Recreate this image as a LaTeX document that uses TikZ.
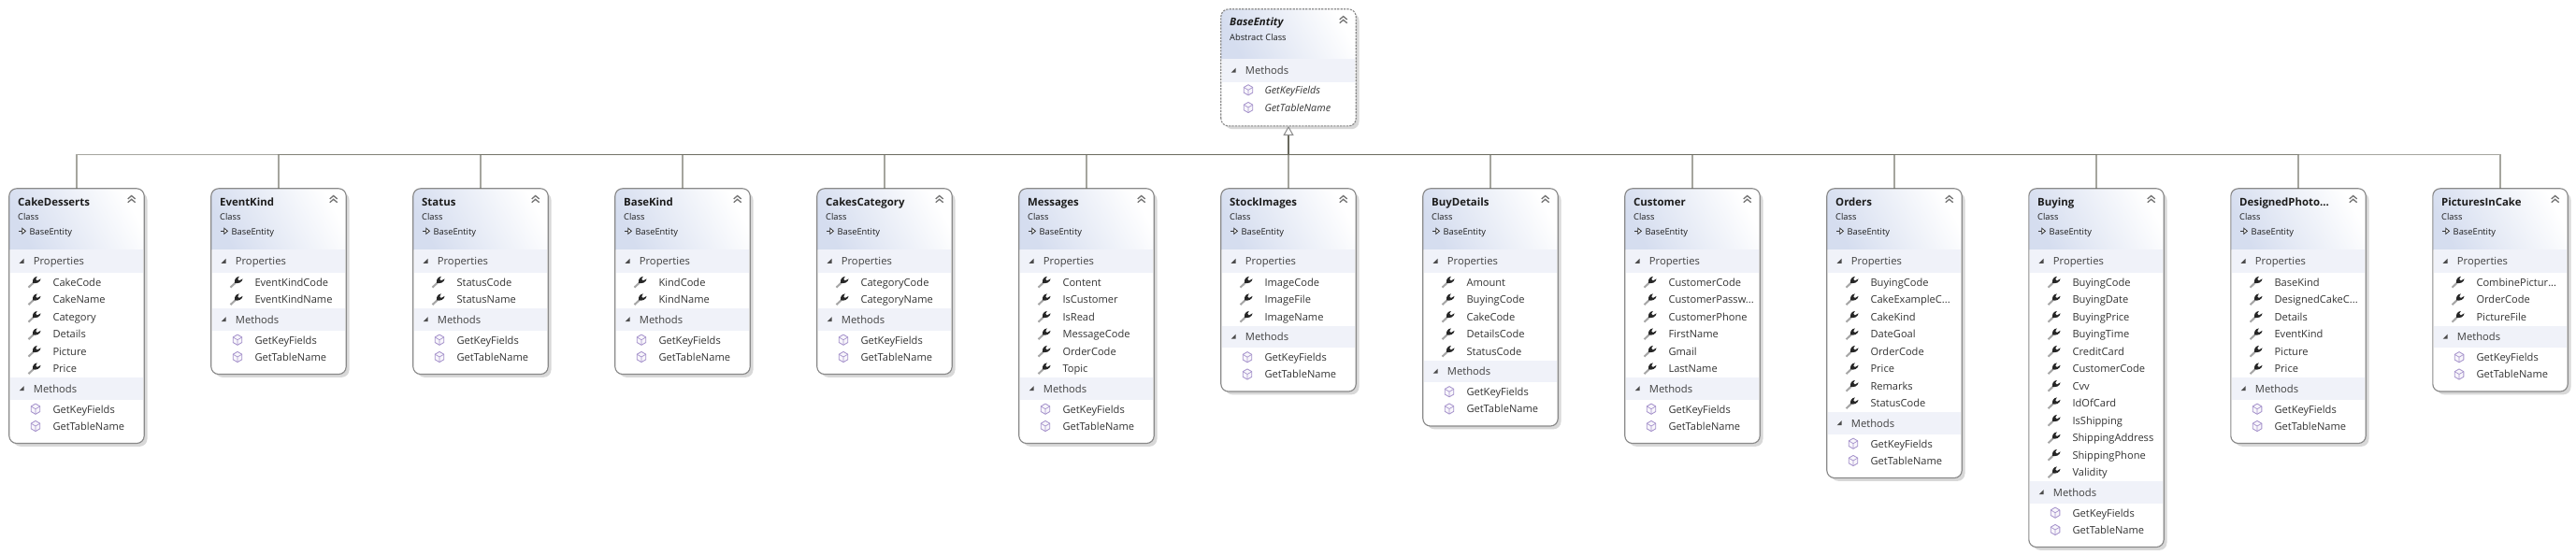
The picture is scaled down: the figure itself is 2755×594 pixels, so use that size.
\documentclass[tikz,border=0pt]{standalone}
\usepackage{fontspec}
\setmainfont{Open Sans}
\usetikzlibrary{arrows.meta}
\newcommand\trunc{...}
\definecolor{boxline}{HTML}{8A8A8A}
\definecolor{boxshadow}{HTML}{D8D8D8}
\definecolor{bandfill}{HTML}{F0F2F9}
\definecolor{headfill}{HTML}{D5DDEF}
\definecolor{linkline}{HTML}{6A6A5E}
\definecolor{cubeline}{HTML}{A693CC}
\definecolor{inkdark}{HTML}{1C1C1C}
\tikzset{
  boxbody/.style={rectangle,rounded corners=8pt,minimum width=144pt,inner sep=0pt,fill=white},
  boxedge/.style={draw=boxline,line width=1.15pt,rounded corners=8pt},
  boxdash/.style={boxedge,dashed,dash pattern=on 2.2pt off 1.2pt},
  shadowpart/.style={fill=boxshadow,rounded corners=8pt},
  headerpart/.style={bottom color=headfill,top color=white,shading angle=-62},
  bandpart/.style={fill=bandfill},
  titletext/.style={anchor=base west,inner sep=0pt,text=inkdark,font=\fontsize{11.4}{13}\selectfont\bfseries},
  smalltext/.style={anchor=base west,inner sep=0pt,text=inkdark,font=\fontsize{9.3}{10}\selectfont},
  sectiontext/.style={anchor=base west,inner sep=0pt,text=black!75,font=\fontsize{11.2}{13}\selectfont},
  rowtext/.style={anchor=base west,inner sep=0pt,text=black!80,font=\fontsize{11.1}{13}\selectfont},
  conn/.style={draw=linkline,line width=1.3pt,draw opacity=.6},
  stemline/.style={draw=linkline,line width=1.4pt,-{Triangle[open,fill=white,length=10pt,width=11pt,color=boxline,line width=1pt]}},
  wrenchicon/.pic={
    \draw[black!35,line width=2.1pt] (-5.5,6) -- (0.2,0.4);
    \fill[black!85] (-0.9,1.1) .. controls (-1.6,-2.6) and (0.2,-5.2) .. (3.8,-5.8)
      -- (2.2,-2.8) -- (3.8,-1.2) -- (7.6,-3.4)
      .. controls (7,0.4) and (3.2,2.2) .. (-0.9,1.1) -- cycle;
  },
  cubeicon/.pic={
    \draw[cubeline,line width=.85pt,fill=cubeline!8,line join=round]
      (0,-5.6) -- (4.8,-2.8) -- (4.8,2.8) -- (0,5.6) -- (-4.8,2.8) -- (-4.8,-2.8) -- cycle;
    \draw[cubeline,line width=.7pt,line join=round] (-4.8,-2.8) -- (0,0) -- (4.8,-2.8) (0,0) -- (0,5.6);
  },
  collapseicon/.pic={
    \draw[black!55,line width=1.3pt] (-4,-0.6) -- (0,-4) -- (4,-0.6);
    \draw[black!55,line width=1.3pt] (-4,3.2) -- (0,-0.2) -- (4,3.2);
  },
  foldicon/.pic={
    \fill[black!70] (2.5,-2.9) -- (2.5,2.1) -- (-2.5,2.1) -- cycle;
  },
  inheritmark/.pic={
    \draw[black!80,line width=.9pt] (0,0) -- (4,0);
    \draw[black!80,line width=.8pt,fill=white] (3.8,-3) -- (7.4,0) -- (3.8,3) -- cycle;
  },
}
% shell of a box: #1 id, #2 centre x, #3 top y, #4 bottom y, #5 header bottom, #6 edge style
\newcommand\boxshell[6]{%
  \pgfmathsetmacro\xl{#2-72}\pgfmathsetmacro\xr{#2+72}%
  \pgfmathsetmacro\ym{(#3+#4)/2}\pgfmathsetmacro\hh{#4-#3}%
  \fill[shadowpart] (\xl+4,#3+4) rectangle (\xr+3.5,#4+3.5);
  \node[boxbody,minimum height=\hh pt] (#1) at (#2,\ym) {};
  \shade[headerpart] (\xl,#5) [rounded corners=8pt] -- (\xl,#3) -- (\xr,#3) [sharp corners] -- (\xr,#5) -- cycle;
  \draw[#6] (#1.south west) rectangle (#1.north east);
  \pic at (\xr-13.3,#3+11.5) {collapseicon};
}
% section band: #1 left x, #2 band top y, #3 band height, #4 id, #5 text
\newcommand\bandat[5]{%
  \fill[bandpart] (#1+0.7,#2) rectangle (#1+143.3,#2+#3);
  \pic at (#1+13.2,#2+#3/2) {foldicon};
  \node[sectiontext] (#4) at (#1+25.7,#2+16) {#5};
}
% a class: #1 id, #2 centre x, #3 title, #4 property count, #5 properties
\newcommand\classbox[5]{%
  \pgfmathsetmacro\mtop{292+#4*18.5+1.3}%
  \pgfmathsetmacro\ybot{\mtop+70}%
  \boxshell{#1}{#2}{202}{\ybot}{267.3}{boxedge}
  \node[titletext] (#1-title) at (\xl+9,220.3) {#3};
  \node[smalltext] (#1-kind) at (\xl+9,235.3) {Class};
  \pic at (\xl+10,247.3) {inheritmark};
  \node[smalltext] (#1-base) at (\xl+21.5,251) {BaseEntity};
  \bandat{\xl}{267.3}{24.7}{#1-props}{Properties}
  \foreach \pname [count=\pi] in {#5} {
    \pgfmathsetmacro\yrow{292+9.7+(\pi-1)*18.5}
    \pic at (\xl+26,\yrow) {wrenchicon};
    \node[rowtext] (#1-p\pi) at (\xl+46.3,\yrow+4.3) {\pname};
  }
  \bandat{\xl}{\mtop}{23.4}{#1-meths}{Methods}
  \pic at (\xl+28,\mtop+33.4) {cubeicon};
  \node[rowtext] (#1-m1) at (\xl+46.3,\mtop+37.7) {GetKeyFields};
  \pic at (\xl+28,\mtop+51.7) {cubeicon};
  \node[rowtext] (#1-m2) at (\xl+46.3,\mtop+56) {GetTableName};
}
\begin{document}
\begin{tikzpicture}[x=1pt,y=-1pt]
\useasboundingbox (0,0) rectangle (2755,594);
\fill[white] (0,0) rectangle (2755,594);
\coordinate (hub) at (1378,165.7);
% abstract base class
\boxshell{BaseEntity}{1378}{10}{134.7}{63.3}{boxdash}
\node[titletext,font=\fontsize{11.4}{13}\selectfont\bfseries\itshape] (BaseEntity-title) at (\xl+9,27.8) {BaseEntity};
\node[smalltext] (BaseEntity-kind) at (\xl+9,43.4) {Abstract Class};
\bandat{\xl}{63.3}{24.4}{BaseEntity-meths}{Methods}
\pic at (\xl+29,96.3) {cubeicon};
\node[rowtext,font=\fontsize{10.8}{13}\selectfont\itshape] (BaseEntity-m1) at (\xl+46.3,100.6) {GetKeyFields};
\pic at (\xl+29,115) {cubeicon};
\node[rowtext,font=\fontsize{10.8}{13}\selectfont\itshape] (BaseEntity-m2) at (\xl+46.3,119.3) {GetTableName};
% derived classes
\classbox{CakeDesserts}{82}{CakeDesserts}{6}{CakeCode,CakeName,Category,Details,Picture,Price}
\classbox{EventKind}{298}{EventKind}{2}{EventKindCode,EventKindName}
\classbox{Status}{514}{Status}{2}{StatusCode,StatusName}
\classbox{BaseKind}{730}{BaseKind}{2}{KindCode,KindName}
\classbox{CakesCategory}{946}{CakesCategory}{2}{CategoryCode,CategoryName}
\classbox{Messages}{1162}{Messages}{6}{Content,IsCustomer,IsRead,MessageCode,OrderCode,Topic}
\classbox{StockImages}{1378}{StockImages}{3}{ImageCode,ImageFile,ImageName}
\classbox{BuyDetails}{1594}{BuyDetails}{5}{Amount,BuyingCode,CakeCode,DetailsCode,StatusCode}
\classbox{Customer}{1810}{Customer}{6}{CustomerCode,CustomerPassw\trunc,CustomerPhone,FirstName,Gmail,LastName}
\classbox{Orders}{2026}{Orders}{8}{BuyingCode,CakeExampleC\trunc,CakeKind,DateGoal,OrderCode,Price,Remarks,StatusCode}
\classbox{Buying}{2242}{Buying}{12}{BuyingCode,BuyingDate,BuyingPrice,BuyingTime,CreditCard,CustomerCode,Cvv,IdOfCard,IsShipping,ShippingAddress,ShippingPhone,Validity}
\classbox{DesignedPhoto}{2458}{DesignedPhoto...}{6}{BaseKind,DesignedCakeC\trunc,Details,EventKind,Picture,Price}
\classbox{PicturesInCake}{2674}{PicturesInCake}{3}{CombinePictur\trunc,OrderCode,PictureFile}
% inheritance connectors
\foreach \child in {CakeDesserts,EventKind,Status,BaseKind,CakesCategory,Messages,StockImages,BuyDetails,Customer,Orders,Buying,DesignedPhoto,PicturesInCake}
  \draw[conn] (\child.north) |- (hub);
\draw[stemline] (hub) -- (BaseEntity.south);
\end{tikzpicture}
\end{document}
